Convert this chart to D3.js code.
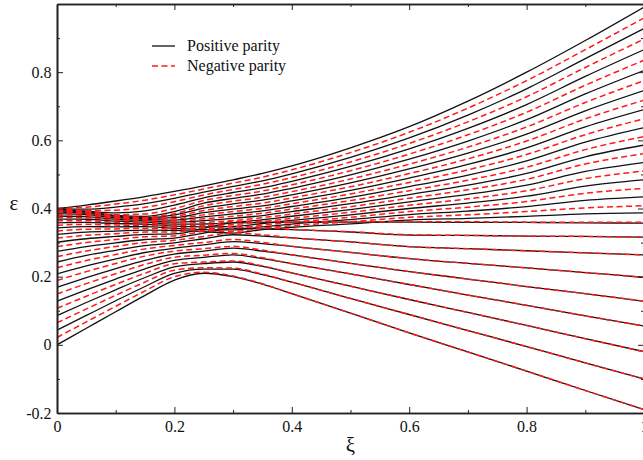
<!DOCTYPE html>
<html>
<head>
<meta charset="utf-8">
<script src="https://cdn.jsdelivr.net/npm/d3@7"></script>
<style>
  html, body { margin: 0; padding: 0; background: #fff; }
  svg { display: block; }
  text { font-family: "Liberation Serif", "Times New Roman", Times, serif; fill: #111; }
</style>
</head>
<body>
<svg id="chart" width="643" height="460"></svg>
<script>
// Coupling parameter ξ at which every level is tabulated
const xi = [0, 0.05, 0.1, 0.15, 0.2, 0.25, 0.3, 0.35, 0.4, 0.5, 0.6, 0.7, 0.8, 0.9, 1.0];

// Scaled energies ε of the positive-parity levels (n = 0, 2, ..., 40)
const positiveParity = [
  [0, 0.0485, 0.097, 0.145, 0.19, 0.21, 0.200, 0.178, 0.150, 0.093, 0.035, -0.021, -0.077, -0.134, -0.190],
  [0.043, 0.0863, 0.1293, 0.1712, 0.2094, 0.222, 0.222, 0.206, 0.184, 0.136, 0.089, 0.042, -0.005, -0.053, -0.100],
  [0.086, 0.1242, 0.1615, 0.1975, 0.2287, 0.238, 0.243, 0.230, 0.211, 0.172, 0.133, 0.095, 0.057, 0.018, -0.020],
  [0.128, 0.1611, 0.193, 0.2231, 0.2476, 0.2565, 0.264, 0.253, 0.238, 0.208, 0.177, 0.146, 0.116, 0.085, 0.055],
  [0.169, 0.1972, 0.2238, 0.2481, 0.2661, 0.275, 0.284, 0.275, 0.264, 0.239, 0.215, 0.193, 0.171, 0.150, 0.128],
  [0.208, 0.2315, 0.2519, 0.2709, 0.2836, 0.2933, 0.303, 0.297, 0.289, 0.271, 0.253, 0.239, 0.226, 0.212, 0.198],
  [0.243, 0.2623, 0.2773, 0.2913, 0.2994, 0.3112, 0.323, 0.319, 0.314, 0.302, 0.288, 0.282, 0.276, 0.270, 0.264],
  [0.274, 0.2882, 0.2992, 0.309, 0.3133, 0.3277, 0.342, 0.340, 0.338, 0.331, 0.322, 0.321, 0.319, 0.318, 0.316],
  [0.301, 0.3113, 0.318, 0.3241, 0.3255, 0.3418, 0.358, 0.359, 0.360, 0.360, 0.360, 0.359, 0.359, 0.358, 0.357],
  [0.324, 0.3308, 0.3336, 0.3366, 0.336, 0.332, 0.328, 0.338, 0.345, 0.355, 0.366, 0.371, 0.377, 0.384, 0.387],
  [0.343, 0.3468, 0.3462, 0.3466, 0.342, 0.3383, 0.3372, 0.3463, 0.3544, 0.3674, 0.382, 0.3925, 0.4055, 0.4236, 0.434],
  [0.358, 0.3593, 0.3559, 0.3544, 0.348, 0.3458, 0.3474, 0.356, 0.3651, 0.3814, 0.400, 0.416, 0.436, 0.4657, 0.484],
  [0.369, 0.3685, 0.3629, 0.3599, 0.354, 0.3545, 0.3587, 0.367, 0.3773, 0.397, 0.4195, 0.4414, 0.4685, 0.5087, 0.535],
  [0.378, 0.3759, 0.3685, 0.3644, 0.360, 0.3644, 0.3709, 0.3793, 0.3909, 0.4141, 0.441, 0.4687, 0.503, 0.5517, 0.586],
  [0.385, 0.3818, 0.3731, 0.3681, 0.366, 0.3754, 0.3841, 0.393, 0.4059, 0.4329, 0.4642, 0.498, 0.5394, 0.5947, 0.637],
  [0.3905, 0.3859, 0.3766, 0.3708, 0.373, 0.3876, 0.3983, 0.408, 0.4223, 0.4531, 0.4892, 0.5293, 0.5778, 0.6394, 0.690],
  [0.394, 0.3891, 0.3786, 0.3724, 0.381, 0.401, 0.4135, 0.4243, 0.4401, 0.475, 0.516, 0.5626, 0.6182, 0.6866, 0.746],
  [0.3967, 0.3908, 0.3798, 0.377, 0.391, 0.4156, 0.4297, 0.442, 0.4593, 0.4984, 0.5446, 0.5978, 0.6606, 0.7363, 0.805],
  [0.3985, 0.3923, 0.387, 0.393, 0.410, 0.4313, 0.4469, 0.461, 0.4799, 0.5235, 0.575, 0.635, 0.7049, 0.7876, 0.866],
  [0.3995, 0.398, 0.404, 0.414, 0.430, 0.4482, 0.4651, 0.4813, 0.5019, 0.5501, 0.6071, 0.6741, 0.7512, 0.8399, 0.928],
  [0.400, 0.410, 0.422, 0.435, 0.450, 0.4663, 0.4843, 0.503, 0.525, 0.578, 0.640, 0.715, 0.800, 0.893, 0.991]
];

// Scaled energies ε of the negative-parity levels (n = 1, 3, ..., 39)
const negativeParity = [
  [0.0215, 0.0674, 0.1131, 0.1581, 0.1997, 0.213, 0.202, 0.179, 0.150, 0.093, 0.035, -0.021, -0.077, -0.134, -0.190],
  [0.0645, 0.1053, 0.1454, 0.1843, 0.219, 0.226, 0.225, 0.2075, 0.184, 0.136, 0.089, 0.042, -0.005, -0.053, -0.100],
  [0.107, 0.1427, 0.1773, 0.2103, 0.2382, 0.243, 0.246, 0.232, 0.211, 0.172, 0.133, 0.095, 0.057, 0.018, -0.020],
  [0.149, 0.1796, 0.2088, 0.2359, 0.2571, 0.263, 0.268, 0.2555, 0.238, 0.208, 0.177, 0.146, 0.116, 0.085, 0.055],
  [0.189, 0.2148, 0.2388, 0.2603, 0.2751, 0.282, 0.289, 0.278, 0.264, 0.239, 0.215, 0.193, 0.171, 0.150, 0.128],
  [0.226, 0.2474, 0.265, 0.2815, 0.2917, 0.3004, 0.309, 0.3005, 0.289, 0.271, 0.253, 0.239, 0.226, 0.212, 0.198],
  [0.259, 0.2753, 0.2887, 0.3005, 0.3066, 0.3178, 0.329, 0.323, 0.314, 0.302, 0.288, 0.282, 0.276, 0.270, 0.264],
  [0.288, 0.3002, 0.309, 0.3169, 0.3196, 0.3338, 0.348, 0.3445, 0.339, 0.332, 0.323, 0.321, 0.319, 0.318, 0.316],
  [0.313, 0.3215, 0.3262, 0.3307, 0.3309, 0.3465, 0.362, 0.362, 0.361, 0.361, 0.361, 0.361, 0.360, 0.360, 0.360],
  [0.334, 0.3392, 0.3402, 0.3419, 0.339, 0.335, 0.3325, 0.342, 0.3495, 0.361, 0.374, 0.3815, 0.391, 0.4017, 0.408],
  [0.351, 0.3535, 0.3513, 0.3507, 0.345, 0.3419, 0.3422, 0.351, 0.3596, 0.3742, 0.391, 0.404, 0.4205, 0.4447, 0.459],
  [0.364, 0.3643, 0.3597, 0.3574, 0.351, 0.350, 0.3529, 0.3613, 0.371, 0.389, 0.4095, 0.4284, 0.452, 0.4876, 0.510],
  [0.374, 0.3726, 0.3659, 0.3623, 0.357, 0.3593, 0.3647, 0.373, 0.3839, 0.4054, 0.430, 0.4548, 0.4855, 0.5306, 0.561],
  [0.382, 0.3794, 0.3712, 0.3665, 0.363, 0.3697, 0.3774, 0.386, 0.3982, 0.4233, 0.4524, 0.4831, 0.5209, 0.5728, 0.611],
  [0.388, 0.3842, 0.3749, 0.3695, 0.370, 0.3813, 0.3911, 0.4003, 0.4139, 0.4428, 0.4765, 0.5134, 0.5584, 0.6166, 0.663],
  [0.3925, 0.3876, 0.3778, 0.3717, 0.377, 0.3942, 0.4058, 0.416, 0.431, 0.4639, 0.5024, 0.5457, 0.5978, 0.6629, 0.718],
  [0.3955, 0.3899, 0.3793, 0.3735, 0.385, 0.4081, 0.4215, 0.433, 0.4495, 0.4865, 0.5301, 0.580, 0.6392, 0.7110, 0.775],
  [0.3977, 0.3916, 0.3815, 0.384, 0.400, 0.4233, 0.4382, 0.4513, 0.4694, 0.5108, 0.5596, 0.6162, 0.6825, 0.7615, 0.835],
  [0.399, 0.394, 0.395, 0.4035, 0.420, 0.4396, 0.4559, 0.471, 0.4907, 0.5366, 0.5908, 0.6543, 0.7278, 0.8138, 0.897],
  [0.3998, 0.404, 0.413, 0.4245, 0.440, 0.4571, 0.4746, 0.492, 0.5134, 0.564, 0.6236, 0.6944, 0.7751, 0.866, 0.959]
];

const xTicks = [0, 0.2, 0.4, 0.6, 0.8, 1];
const xTickLabels = ["0", "0.2", "0.4", "0.6", "0.8", "1"];
const xMinorTicks = [0.1, 0.3, 0.5, 0.7, 0.9];
const yTicks = [-0.2, 0, 0.2, 0.4, 0.6, 0.8];
const yTickLabels = ["-0.2", "0", "0.2", "0.4", "0.6", "0.8"];
const yMinorTicks = [-0.1, 0.1, 0.3, 0.5, 0.7, 0.9];
const seriesNames = ["Positive parity", "Negative parity"];

const svg = d3.select("#chart");
const x = d3.scaleLinear().domain([0, 1]).range([57, 644]);
const y = d3.scaleLinear().domain([-0.2, 1.0]).range([413, 4]);

svg.append("clipPath").attr("id", "plot-clip")
  .append("rect")
  .attr("x", x(0)).attr("y", y(1.0))
  .attr("width", x(1) - x(0)).attr("height", y(-0.2) - y(1.0));

const line = d3.line()
  .x((d, i) => x(xi[i]))
  .y(d => y(d))
  .curve(d3.curveMonotoneX);

const plot = svg.append("g").attr("clip-path", "url(#plot-clip)");

plot.selectAll("path.pos")
  .data(positiveParity)
  .join("path")
  .attr("class", "pos")
  .attr("d", line)
  .attr("fill", "none")
  .attr("stroke", "#111")
  .attr("stroke-width", 1.3);

plot.selectAll("path.neg")
  .data(negativeParity)
  .join("path")
  .attr("class", "neg")
  .attr("d", line)
  .attr("fill", "none")
  .attr("stroke", "#ff1a1a")
  .attr("stroke-width", 1.5)
  .attr("stroke-dasharray", "6,3.5");

// Frame with inward major and minor ticks on all four sides
function styleAxis(g) {
  g.select(".domain").attr("stroke", "#222").attr("stroke-width", 1.6);
  g.selectAll(".tick line").attr("stroke", "#222").attr("stroke-width", 1);
  g.selectAll(".tick text").attr("font-size", 16)
    .attr("font-family", "'Liberation Serif', 'Times New Roman', serif").attr("fill", "#111");
}

svg.append("g")
  .attr("transform", `translate(0,${y(-0.2)})`)
  .call(d3.axisBottom(x).tickValues(xTicks).tickFormat((d, i) => xTickLabels[i])
    .tickSizeInner(-6).tickSizeOuter(0).tickPadding(8))
  .call(styleAxis);
svg.append("g")
  .attr("transform", `translate(0,${y(-0.2)})`)
  .call(d3.axisBottom(x).tickValues(xMinorTicks).tickFormat("").tickSizeInner(-3).tickSizeOuter(0))
  .call(styleAxis);

svg.append("g")
  .attr("transform", `translate(0,${y(1.0)})`)
  .call(d3.axisTop(x).tickValues(xTicks).tickFormat("").tickSizeInner(-6).tickSizeOuter(0))
  .call(styleAxis);
svg.append("g")
  .attr("transform", `translate(0,${y(1.0)})`)
  .call(d3.axisTop(x).tickValues(xMinorTicks).tickFormat("").tickSizeInner(-3).tickSizeOuter(0))
  .call(styleAxis);

svg.append("g")
  .attr("transform", `translate(${x(0)},0)`)
  .call(d3.axisLeft(y).tickValues(yTicks).tickFormat((d, i) => yTickLabels[i])
    .tickSizeInner(-6).tickSizeOuter(0).tickPadding(5.5))
  .call(styleAxis);
svg.append("g")
  .attr("transform", `translate(${x(0)},0)`)
  .call(d3.axisLeft(y).tickValues(yMinorTicks).tickFormat("").tickSizeInner(-3).tickSizeOuter(0))
  .call(styleAxis);

svg.append("g")
  .attr("transform", `translate(${x(1)},0)`)
  .call(d3.axisRight(y).tickValues(yTicks).tickFormat("").tickSizeInner(-6).tickSizeOuter(0))
  .call(styleAxis);
svg.append("g")
  .attr("transform", `translate(${x(1)},0)`)
  .call(d3.axisRight(y).tickValues(yMinorTicks).tickFormat("").tickSizeInner(-3).tickSizeOuter(0))
  .call(styleAxis);

// Axis titles
svg.append("text")
  .attr("x", 14).attr("y", 210)
  .attr("text-anchor", "middle")
  .attr("font-size", 21)
  .text("ε");
svg.append("text")
  .attr("x", x(0.5)).attr("y", 452)
  .attr("text-anchor", "middle")
  .attr("font-size", 21)
  .text("ξ");

// Legend
const legend = svg.append("g").attr("transform", "translate(152,46)");
const legendRows = legend.selectAll("g")
  .data(seriesNames)
  .join("g")
  .attr("transform", (d, i) => `translate(0,${i * 20})`);
legendRows.append("line")
  .attr("x1", 0).attr("x2", 23).attr("y1", 0).attr("y2", 0)
  .attr("stroke", (d, i) => i === 0 ? "#111" : "#ff1a1a")
  .attr("stroke-width", (d, i) => i === 0 ? 1.3 : 1.5)
  .attr("stroke-dasharray", (d, i) => i === 0 ? null : "6,3.5");
legendRows.append("text")
  .attr("x", 35).attr("y", 5)
  .attr("font-size", 16)
  .text(d => d);
</script>
</body>
</html>
